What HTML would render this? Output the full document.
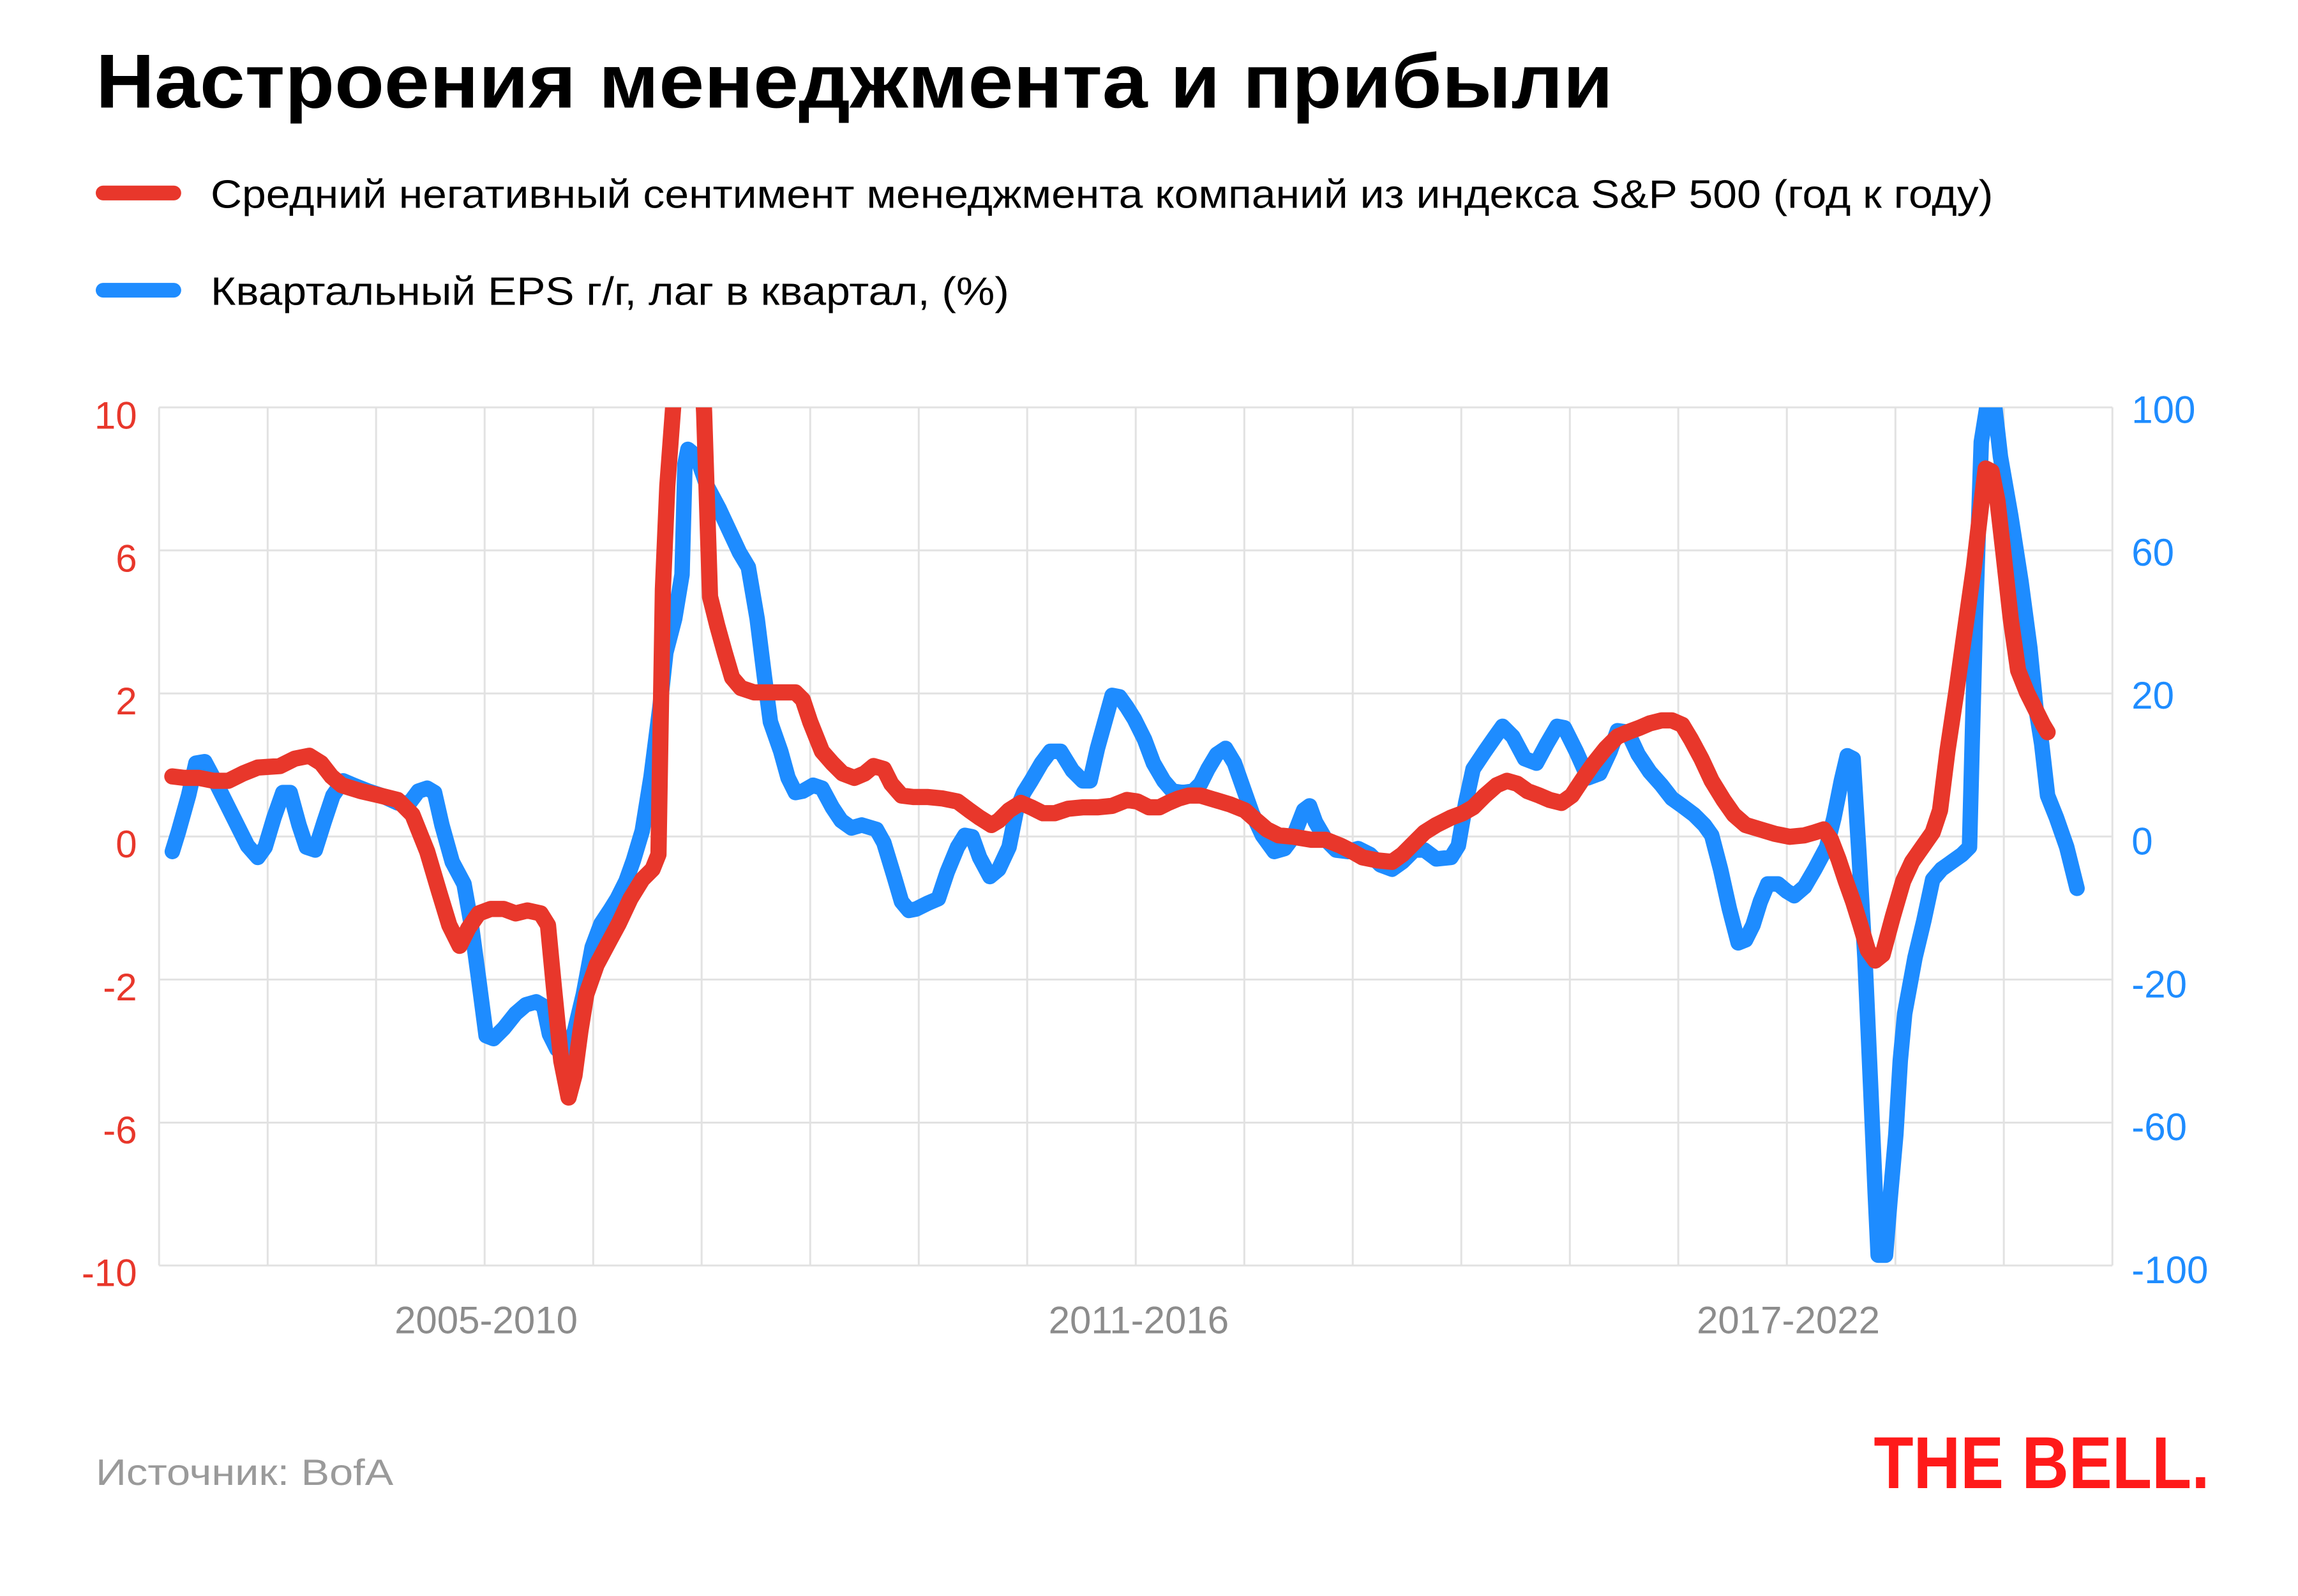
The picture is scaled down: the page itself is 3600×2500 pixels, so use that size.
<!DOCTYPE html>
<html><head><meta charset="utf-8"><style>
html,body{margin:0;padding:0;background:#fff;}
svg{display:block;}
text{font-family:"Liberation Sans","DejaVu Sans",sans-serif;}
</style></head><body>
<svg width="3600" height="2500" viewBox="0 0 1560 1083.33" xmlns="http://www.w3.org/2000/svg">
<rect width="1560" height="1083.33" fill="#fff"/>
<text x="65" y="73" font-size="52" font-weight="bold" fill="#000" textLength="1030" lengthAdjust="spacingAndGlyphs">Настроения менеджмента и прибыли</text>
<line x1="70" y1="131" x2="118" y2="131" stroke="#e8372b" stroke-width="10" stroke-linecap="round"/>
<text x="143" y="141" font-size="27" fill="#000" textLength="1210" lengthAdjust="spacingAndGlyphs">Средний негативный сентимент менеджмента компаний из индекса S&amp;P 500 (год к году)</text>
<line x1="70" y1="197" x2="118" y2="197" stroke="#1e8cff" stroke-width="10" stroke-linecap="round"/>
<text x="143" y="207" font-size="27" fill="#000" textLength="542" lengthAdjust="spacingAndGlyphs">Квартальный EPS г/г, лаг в квартал, (%)</text>

<g stroke="#e2e2e2" stroke-width="1.3">
<line x1="108" y1="276.5" x2="1434" y2="276.5"/>
<line x1="108" y1="373.6" x2="1434" y2="373.6"/>
<line x1="108" y1="470.7" x2="1434" y2="470.7"/>
<line x1="108" y1="567.8" x2="1434" y2="567.8"/>
<line x1="108" y1="664.9" x2="1434" y2="664.9"/>
<line x1="108" y1="762" x2="1434" y2="762"/>
<line x1="108" y1="859" x2="1434" y2="859"/>
<line x1="108" y1="276.5" x2="108" y2="859"/>
<line x1="181.7" y1="276.5" x2="181.7" y2="859"/>
<line x1="255.3" y1="276.5" x2="255.3" y2="859"/>
<line x1="329" y1="276.5" x2="329" y2="859"/>
<line x1="402.7" y1="276.5" x2="402.7" y2="859"/>
<line x1="476.3" y1="276.5" x2="476.3" y2="859"/>
<line x1="550" y1="276.5" x2="550" y2="859"/>
<line x1="623.7" y1="276.5" x2="623.7" y2="859"/>
<line x1="697.3" y1="276.5" x2="697.3" y2="859"/>
<line x1="771" y1="276.5" x2="771" y2="859"/>
<line x1="844.7" y1="276.5" x2="844.7" y2="859"/>
<line x1="918.3" y1="276.5" x2="918.3" y2="859"/>
<line x1="992" y1="276.5" x2="992" y2="859"/>
<line x1="1065.7" y1="276.5" x2="1065.7" y2="859"/>
<line x1="1139.3" y1="276.5" x2="1139.3" y2="859"/>
<line x1="1213" y1="276.5" x2="1213" y2="859"/>
<line x1="1286.7" y1="276.5" x2="1286.7" y2="859"/>
<line x1="1360.3" y1="276.5" x2="1360.3" y2="859"/>
<line x1="1434" y1="276.5" x2="1434" y2="859"/>
</g>

<g font-size="26" fill="#e8372b" text-anchor="end">
<text x="93" y="291">10</text><text x="93" y="388">6</text><text x="93" y="485">2</text>
<text x="93" y="582">0</text><text x="93" y="679">-2</text><text x="93" y="776">-6</text><text x="93" y="873">-10</text>
</g>
<g font-size="26" fill="#1e8cff">
<text x="1447" y="287">100</text><text x="1447" y="384">60</text><text x="1447" y="481">20</text>
<text x="1447" y="580">0</text><text x="1447" y="677">-20</text><text x="1447" y="774">-60</text><text x="1447" y="871">-100</text>
</g>
<g font-size="26" fill="#8c8c8c" text-anchor="middle">
<text x="330" y="905">2005-2010</text><text x="773" y="905">2011-2016</text><text x="1214" y="905">2017-2022</text>
</g>

<defs><clipPath id="c"><rect x="108" y="276.5" width="1326" height="583"/></clipPath></defs>
<g clip-path="url(#c)" fill="none" stroke-linejoin="round" stroke-linecap="round">
<polyline stroke="#1e8cff" stroke-width="10.5" points="117,578 121,565 128,540 133,518 139,517 147,532 155,548 162,562 168,574 175,582 180,575 186,555 192,538 197,538 203,560 208,575 214,577 220,558 226,540 233,530 240,533 250,537 259,540 270,545 278,545 284,537 290,535 295,538 300,560 307,585 315,600 320,628 325,665 330,703 335,705 342,698 350,688 357,682 364,680 369,683 373,702 378,712 384,713 390,700 396,675 402,643 408,627 414,618 419,610 425,598 430,584 436,564 442,527 448,480 452,443 458,420 463,390 465,315 467,305 473,310 480,330 488,345 495,360 502,375 508,385 514,420 519,460 523,490 530,510 535,528 540,538 545,537 552,533 558,535 565,548 571,557 578,562 585,560 595,563 600,572 607,595 612,612 617,618 622,617 630,613 637,610 643,592 650,575 655,567 660,568 665,582 672,595 678,590 685,575 690,550 695,538 700,530 707,518 713,510 720,510 728,523 735,530 740,530 745,508 750,490 755,472 760,473 765,480 770,488 777,502 783,518 790,530 796,537 803,538 810,537 815,532 820,522 826,512 832,508 838,518 844,535 850,552 857,567 865,578 872,576 878,568 885,550 889,547 893,558 900,570 907,577 915,578 922,576 930,580 937,587 945,590 952,585 960,577 967,577 975,583 985,582 990,574 995,545 1000,522 1008,510 1015,500 1020,493 1027,500 1035,515 1043,518 1050,505 1057,493 1062,494 1070,510 1078,528 1086,525 1093,510 1098,496 1105,497 1112,512 1120,524 1128,533 1135,542 1142,547 1150,553 1157,560 1162,567 1168,590 1174,617 1180,640 1185,638 1190,628 1195,612 1200,600 1207,600 1213,605 1218,608 1225,602 1232,590 1240,575 1245,555 1250,530 1254,513 1258,515 1262,580 1266,650 1270,740 1273,810 1275,852 1280,852 1283,815 1287,770 1290,720 1293,688 1300,650 1306,625 1312,597 1318,590 1325,585 1332,580 1337,575 1341,420 1345,300 1349,275 1354,275 1358,310 1365,350 1372,395 1378,440 1382,480 1386,505 1390,540 1396,555 1403,575 1410,603"/>
<polyline stroke="#e8372b" stroke-width="11" points="117,527 125,528 135,528 145,530 155,530 165,525 175,521 190,520 200,515 210,513 218,518 225,527 232,533 245,537 258,540 270,543 280,553 290,578 298,605 305,628 312,642 318,630 325,620 333,617 342,617 350,620 358,618 367,620 372,628 376,670 381,720 386,745 390,730 394,700 398,675 405,655 413,640 420,627 428,610 436,597 443,590 447,580 450,400 453,330 457,276 460,240 476,240 478,280 482,405 487,425 492,443 497,460 503,467 512,470 520,470 530,470 540,470 545,475 550,490 558,510 565,518 572,525 580,528 587,525 593,520 600,522 605,532 612,540 620,541 630,541 640,542 650,544 658,550 665,555 673,560 678,557 685,550 693,545 700,548 708,552 716,552 725,549 735,548 745,548 755,547 765,543 772,544 780,548 787,548 793,545 800,542 807,540 815,540 825,543 835,546 845,550 853,557 860,563 868,567 878,568 890,570 900,570 910,574 918,578 925,582 935,584 945,585 952,580 960,572 967,565 975,560 985,555 993,552 1000,548 1008,540 1016,533 1023,530 1030,532 1037,537 1045,540 1052,543 1060,545 1067,540 1075,528 1082,518 1090,508 1098,500 1105,497 1113,494 1120,491 1128,489 1135,489 1142,492 1148,502 1155,515 1162,530 1170,543 1177,553 1185,560 1195,563 1205,566 1215,568 1225,567 1232,565 1238,563 1243,570 1248,583 1253,598 1258,612 1263,628 1268,645 1273,652 1278,648 1285,622 1292,598 1298,585 1305,575 1312,565 1317,550 1322,510 1328,470 1335,420 1340,385 1345,342 1348,318 1352,320 1356,340 1360,375 1365,420 1370,455 1376,470 1382,482 1387,492 1390,497"/>
</g>

<text x="65" y="1008" font-size="25" fill="#9a9a9a" textLength="202" lengthAdjust="spacingAndGlyphs">Источник: BofA</text>
<text x="1272" y="1010" font-size="50" font-weight="900" fill="#ff1a1a" textLength="228" lengthAdjust="spacingAndGlyphs">THE BELL.</text>
</svg>
</body></html>
